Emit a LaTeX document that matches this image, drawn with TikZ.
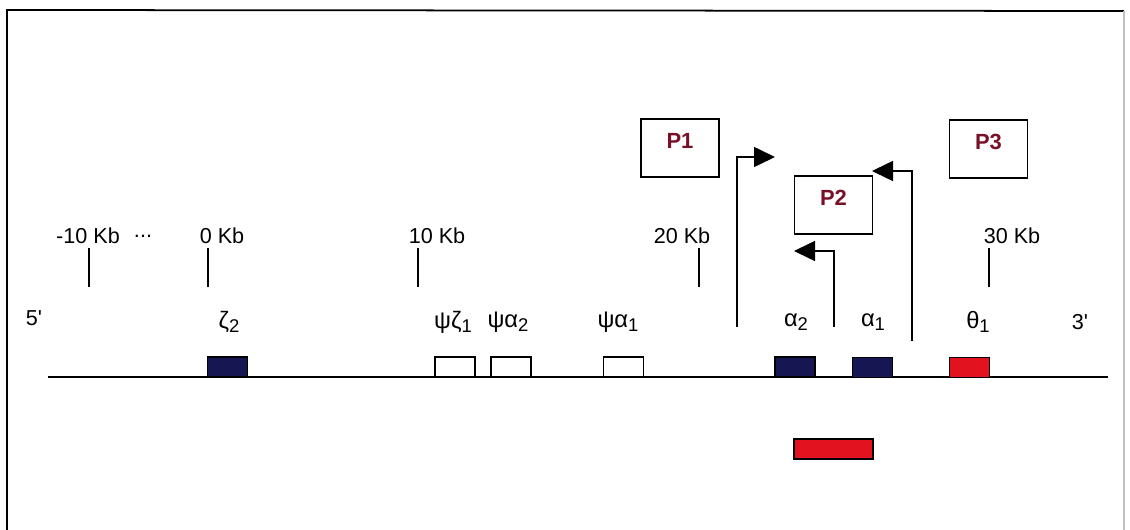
\documentclass[tikz,border=0pt]{standalone}
\usepackage{fontspec}
\setmainfont{Liberation Sans}
\usepackage{xcolor}
\usetikzlibrary{arrows.meta}
\definecolor{navygene}{RGB}{22,22,82}
\definecolor{redgene}{RGB}{226,18,30}
\definecolor{promred}{RGB}{120,16,40}
\newcommand{\gsub}[1]{\raisebox{-0.35ex}{\fontsize{10.5}{11}\selectfont #1}}

\begin{document}
\begin{tikzpicture}[x=0.02cm,y=-0.02cm,line width=0.8pt,
  font=\fontsize{12.3}{14}\selectfont,
  gene/.style={draw,inner sep=0pt,minimum width=0.8cm,minimum height=0.4cm},
  glabel/.style={font=\fontsize{13.5}{15}\selectfont},
  pbox/.style={draw,line width=1pt,inner sep=0pt,minimum width=1.56cm,minimum height=1.16cm,
    text=promred,font=\fontsize{12.5}{14}\selectfont\bfseries},
  prom/.style={line width=0.9pt,-{Triangle[length=0.42cm,width=0.4cm]}}]
\useasboundingbox (0,0) rectangle (1130,530);
% frame
\draw[line width=1pt] (7,540)--(7,10)--(1124,11);
\draw[line width=0.6pt,black!25] (1124,11)--(1124,540);
% chromosome
\coordinate (chrL) at (48,377);
\coordinate (chrR) at (1108,377);
\draw (chrL)--(chrR);
\node (five) at (34,318) {5\textquotesingle};
\node (three) at (1080,322) {3\textquotesingle};
% scale
\node (kbm10) at (88,236) {-10 Kb};
\node (dots) at (143,236) {...};
\node (kb0) at (222,236) {0 Kb};
\node (kb10) at (437,236) {10 Kb};
\node (kb20) at (682,236) {20 Kb};
\node (kb30) at (1012,236) {30 Kb};
\draw (89,248)--(89,287);
\draw (208,248)--(208,287);
\draw (418,248)--(418,287);
\draw (699,248)--(699,287);
\draw (989,248)--(989,287);
% genes
\node[gene,fill=navygene] (z2) at (227.5,367) {};
\node[gene,fill=white] (pz1) at (455,367) {};
\node[gene,fill=white] (pa2) at (511,367) {};
\node[gene,fill=white] (pa1) at (623.5,367) {};
\node[gene,fill=navygene] (a2) at (795,367) {};
\node[gene,fill=navygene] (a1) at (872.5,367.5) {};
\node[gene,fill=redgene] (t1) at (969.5,367.5) {};
\node[gene,fill=redgene,minimum width=1.58cm] (probe) at (833.5,449) {};
\node[glabel] (lz2) at (229,322) {ζ\gsub{2}};
\node[glabel] (lpz1) at (453,322) {ψζ\gsub{1}};
\node[glabel] (lpa2) at (508,322) {ψα\gsub{2}};
\node[glabel] (lpa1) at (618,322) {ψα\gsub{1}};
\node[glabel] (la2) at (796,322) {α\gsub{2}};
\node[glabel] (la1) at (873,322) {α\gsub{1}};
\node[glabel] (lt1) at (978,322) {θ\gsub{1}};
% promoters
\node[pbox] (P1) at (680,148) {\raisebox{8pt}{P1}};
\node[pbox] (P2) at (833.5,205) {\raisebox{8pt}{P2}};
\node[pbox] (P3) at (988.5,149) {\raisebox{8pt}{P3}};
\coordinate (s1) at (737,327);
\coordinate (e1) at (775,157);
\coordinate (s2) at (834,327);
\coordinate (e2) at (794,251);
\coordinate (s3) at (912,341);
\coordinate (e3) at (872,171);
\draw[prom] (s1)|-(e1);
\draw[prom] (s2)|-(e2);
\draw[prom] (s3)|-(e3);
\end{tikzpicture}
\end{document}
